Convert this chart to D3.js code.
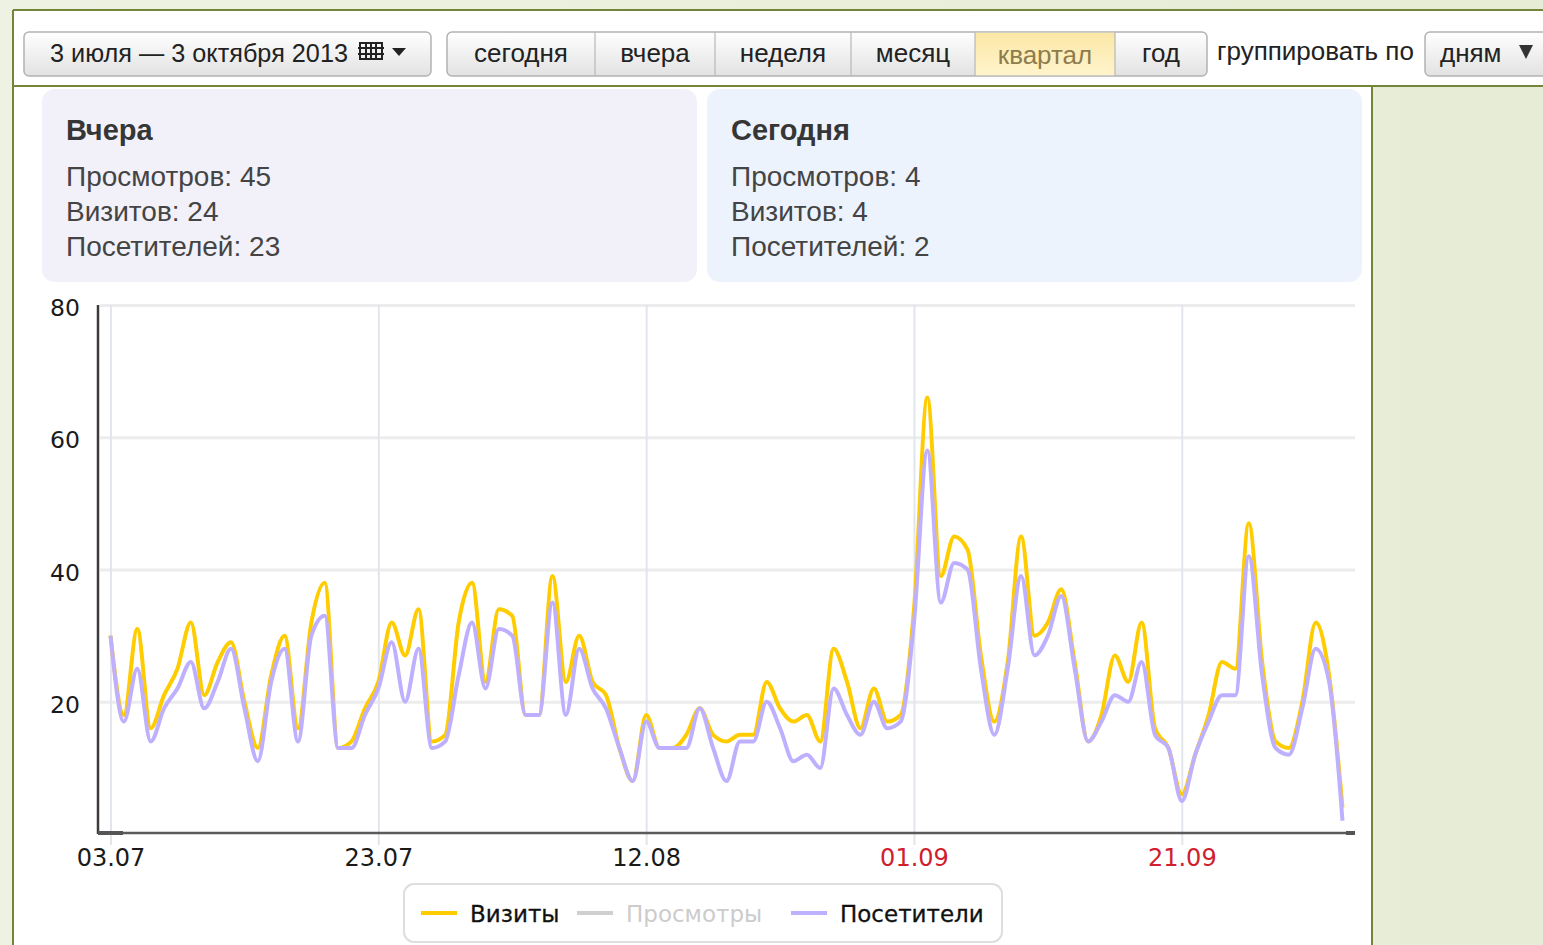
<!DOCTYPE html>
<html>
<head>
<meta charset="utf-8">
<script src="https://cdn.jsdelivr.net/npm/d3@7"></script>
<style>
  html, body { margin: 0; padding: 0; background: #ebf0dc; }
  svg { display: block; }
</style>
</head>
<body>
<svg id="chart" width="1543" height="945"></svg>
<script>
// daily data, 03.07.2013 - 03.10.2013
var startDate = "2013-07-03";
var visits = [30,18,31,16,21,25,32,21,26,29,20,13,24,30,16,32,38,13,14,19,23,32,27,34,14,15,32,38,23,34,
  33,18,18,39,23,30,23,21,13,8,18,13,13,15,19,15,14,15,15,23,19,17,18,14,28,23,16,22,17,18,
  34,66,39,45,43,27,17,26,45,30,32,37,26,14,18,27,23,32,16,13,6,12,18,26,25,47,26,14,13,20,32,24,4];
var visitors = [30,17,25,14,19,22,26,19,23,28,19,11,23,28,14,30,33,13,13,18,22,29,20,28,13,14,24,32,22,31,
  30,18,18,35,18,28,22,19,13,8,17,13,13,13,19,13,8,14,14,20,16,11,12,10,22,18,15,20,16,17,
  32,58,35,41,40,25,15,25,39,27,30,36,25,14,17,21,20,26,15,13,5,12,17,21,21,42,24,13,12,19,28,23,2];
var yTicks = [20, 40, 60, 80];
var xTickLabels = ["03.07", "23.07", "12.08", "01.09", "21.09"];
var redLabels = ["01.09", "21.09"];

var periodButtons = ["сегодня", "вчера", "неделя", "месяц", "квартал", "год"];
var activePeriod = "квартал";
var statTitles = ["Вчера", "Сегодня"];
var statViews = [45, 4];
var statVisits = [24, 4];
var statVisitors = [23, 2];
var legendNames = ["Визиты", "Просмотры", "Посетители"];
var legendColors = ["#ffcc00", "#cfcfcf", "#bfb0ff"];
var legendOff = ["Просмотры"];

var svg = d3.select("#chart");
var defs = svg.append("defs");

var bg = defs.append("linearGradient").attr("id", "bgGrad").attr("x1", 0).attr("x2", 1);
bg.append("stop").attr("offset", 0).attr("stop-color", "#eef2e2");
bg.append("stop").attr("offset", 1).attr("stop-color", "#e6ecd6");

var btnGrad = defs.append("linearGradient").attr("id", "btnGrad").attr("x1", 0).attr("x2", 0).attr("y1", 0).attr("y2", 1);
btnGrad.append("stop").attr("offset", 0).attr("stop-color", "#ffffff");
btnGrad.append("stop").attr("offset", 1).attr("stop-color", "#e2e2e2");

var actGrad = defs.append("linearGradient").attr("id", "actGrad").attr("x1", 0).attr("x2", 0).attr("y1", 0).attr("y2", 1);
actGrad.append("stop").attr("offset", 0).attr("stop-color", "#fbe7a6");
actGrad.append("stop").attr("offset", 1).attr("stop-color", "#fff4cc");

// page background + white panels
svg.append("rect").attr("width", 1543).attr("height", 945).attr("fill", "url(#bgGrad)");
svg.append("rect").attr("x", 13).attr("y", 10).attr("width", 1530).attr("height", 76).attr("fill", "#fff");
svg.append("rect").attr("x", 13).attr("y", 86).attr("width", 1359).attr("height", 859).attr("fill", "#fff");

var olive = "#74853a";
[[13, 10, 1543, 10], [13, 10, 13, 945], [13, 86, 1543, 86], [1372, 86, 1372, 945]].forEach(function(l){
	svg.append("line").attr("x1", l[0]).attr("y1", l[1]).attr("x2", l[2]).attr("y2", l[3])
		.attr("stroke", olive).attr("stroke-width", 2);
});

// toolbar
var uiFont = "'Liberation Sans', Arial, sans-serif";

function button(x, w, fill){
	svg.append("rect").attr("x", x).attr("y", 32).attr("width", w).attr("height", 44)
		.attr("rx", 5).attr("fill", fill).attr("stroke", "#b3b3b3").attr("stroke-width", 1.5);
}

button(24, 407, "url(#btnGrad)");
svg.append("text").attr("x", 50).attr("y", 62).attr("font-family", uiFont).attr("font-size", 26)
	.attr("textLength", 298).attr("lengthAdjust", "spacingAndGlyphs")
	.attr("fill", "#222").text("3 июля — 3 октября 2013");
// calendar icon
var icon = svg.append("g").attr("stroke", "#222").attr("stroke-width", 2).attr("fill", "none");
icon.append("rect").attr("x", 360).attr("y", 43).attr("width", 22).attr("height", 16);
[366, 371, 376].forEach(function(x){ icon.append("line").attr("x1", x).attr("x2", x).attr("y1", 43).attr("y2", 59); });
[48, 54].forEach(function(y){ icon.append("line").attr("x1", 358).attr("x2", 384).attr("y1", y).attr("y2", y); });
svg.append("path").attr("d", "M392,48 L406,48 L399,56 Z").attr("fill", "#222");

// period buttons
var segX = [447, 595, 715, 851, 975, 1115, 1207];
svg.append("rect").attr("x", 447).attr("y", 32).attr("width", 760).attr("height", 44)
	.attr("rx", 5).attr("fill", "url(#btnGrad)").attr("stroke", "#b3b3b3").attr("stroke-width", 1.5);
periodButtons.forEach(function(name, i){
	var x0 = segX[i], x1 = segX[i + 1];
	if (name === activePeriod){
		svg.append("rect").attr("x", x0).attr("y", 32.75).attr("width", x1 - x0).attr("height", 42.5)
			.attr("fill", "url(#actGrad)");
	}
	if (i > 0){
		svg.append("line").attr("x1", x0).attr("x2", x0).attr("y1", 32).attr("y2", 76)
			.attr("stroke", "#b8b8b8").attr("stroke-width", 1.2);
	}
	svg.append("text").attr("x", (x0 + x1) / 2).attr("y", name === activePeriod ? 64 : 62)
		.attr("text-anchor", "middle").attr("font-family", uiFont).attr("font-size", 26)
		.attr("fill", name === activePeriod ? "#8d7c4c" : "#222").text(name);
});

svg.append("text").attr("x", 1217).attr("y", 60).attr("font-family", uiFont).attr("font-size", 26)
	.attr("fill", "#222").text("группировать по");
button(1425, 130, "url(#btnGrad)");
svg.append("text").attr("x", 1440).attr("y", 62).attr("font-family", uiFont).attr("font-size", 26)
	.attr("fill", "#222").text("дням");
svg.append("path").attr("d", "M1519,45 L1533,45 L1526,59 Z").attr("fill", "#333");

// stat boxes
var boxX = [42, 707], boxFill = ["#f2f1fa", "#edf3fd"];
statTitles.forEach(function(t, i){
	var x = boxX[i];
	svg.append("rect").attr("x", x).attr("y", 89).attr("width", 655).attr("height", 193)
		.attr("rx", 13).attr("fill", boxFill[i]);
	svg.append("text").attr("x", x + 24).attr("y", 140).attr("font-family", uiFont).attr("font-size", 29)
		.attr("font-weight", "bold").attr("fill", "#363636").text(t);
	var lines = ["Просмотров: " + statViews[i], "Визитов: " + statVisits[i], "Посетителей: " + statVisitors[i]];
	lines.forEach(function(s, j){
		svg.append("text").attr("x", x + 24).attr("y", 186 + j * 35).attr("font-family", uiFont)
			.attr("font-size", 28).attr("fill", "#444").text(s);
	});
});

// chart
var parseDay = d3.timeParse("%Y-%m-%d");
var day0 = parseDay(startDate);
var days = visits.map(function(v, i){ return d3.timeDay.offset(day0, i); });
var fmt = d3.timeFormat("%d.%m");
var tickDates = xTickLabels.map(function(s){
	return days.find(function(d){ return fmt(d) === s; });
});

var x = d3.scaleTime().domain(d3.extent(days)).range([110.5, 1342.5]);
var y = d3.scaleLinear().domain([0, 80]).range([834, 305]);
var left = 98, right = 1355;
var axisFont = "'DejaVu Sans', Verdana, sans-serif";

// horizontal grid
var hGrid = svg.append("g").attr("transform", "translate(" + right + ",0)")
	.call(d3.axisLeft(y).tickValues(yTicks).tickSize(right - left - 2).tickFormat(""));
hGrid.select(".domain").remove();
hGrid.selectAll("line").attr("stroke", "#ececec").attr("stroke-width", 3);

// vertical grid
var vGrid = svg.append("g").attr("transform", "translate(0,845)")
	.call(d3.axisTop(x).tickValues(tickDates).tickSize(540).tickFormat(""));
vGrid.select(".domain").remove();
vGrid.selectAll("line").attr("stroke", "#e1e6ec").attr("stroke-width", 2);

// y labels
var yAxis = svg.append("g").attr("transform", "translate(" + left + ",0)")
	.call(d3.axisLeft(y).tickValues(yTicks).tickSize(0).tickPadding(18));
yAxis.select(".domain").remove();
yAxis.selectAll("text").attr("font-family", axisFont).attr("font-size", 23.5).attr("fill", "#1a1a1a")
	.attr("dy", "0.45em");

// x labels
var xAxis = svg.append("g").attr("transform", "translate(0,834)")
	.call(d3.axisBottom(x).tickValues(tickDates).tickSize(0).tickPadding(15).tickFormat(fmt));
xAxis.select(".domain").remove();
xAxis.selectAll("text").attr("font-family", axisFont).attr("font-size", 24)
	.attr("fill", function(d){ return redLabels.indexOf(fmt(d)) >= 0 ? "#d0202e" : "#1a1a1a"; });

// axis lines
svg.append("line").attr("x1", left).attr("x2", left).attr("y1", 305).attr("y2", 834)
	.attr("stroke", "#3c3c3c").attr("stroke-width", 2.5);
svg.append("line").attr("x1", left).attr("x2", right).attr("y1", 833).attr("y2", 833)
	.attr("stroke", "#5a5a5a").attr("stroke-width", 2.5);
svg.append("line").attr("x1", left).attr("x2", 123).attr("y1", 833).attr("y2", 833)
	.attr("stroke", "#555").attr("stroke-width", 4);
svg.append("line").attr("x1", 1346).attr("x2", right).attr("y1", 833).attr("y2", 833)
	.attr("stroke", "#555").attr("stroke-width", 4);

var line = d3.line()
	.x(function(d, i){ return x(days[i]); })
	.y(function(d){ return y(d); })
	.curve(d3.curveMonotoneX);

svg.append("path").datum(visits).attr("d", line).attr("fill", "none")
	.attr("stroke", legendColors[0]).attr("stroke-width", 4).attr("stroke-linejoin", "round");
svg.append("path").datum(visitors).attr("d", line).attr("fill", "none")
	.attr("stroke", legendColors[2]).attr("stroke-width", 4).attr("stroke-linejoin", "round");

// legend
svg.append("rect").attr("x", 404).attr("y", 884).attr("width", 598).attr("height", 58)
	.attr("rx", 10).attr("fill", "#fff").attr("stroke", "#dedede").attr("stroke-width", 2);
var legX = [421, 577, 791];
legendNames.forEach(function(n, i){
	var off = legendOff.indexOf(n) >= 0;
	svg.append("line").attr("x1", legX[i]).attr("x2", legX[i] + 36).attr("y1", 913).attr("y2", 913)
		.attr("stroke", legendColors[i]).attr("stroke-width", 4);
	svg.append("text").attr("x", legX[i] + 49).attr("y", 922).attr("font-family", axisFont)
		.attr("font-size", 23).attr("fill", off ? "#cccccc" : "#111").attr("stroke", off ? "none" : "#111")
		.attr("stroke-width", 0.3).text(n);
});
</script>
</body>
</html>
